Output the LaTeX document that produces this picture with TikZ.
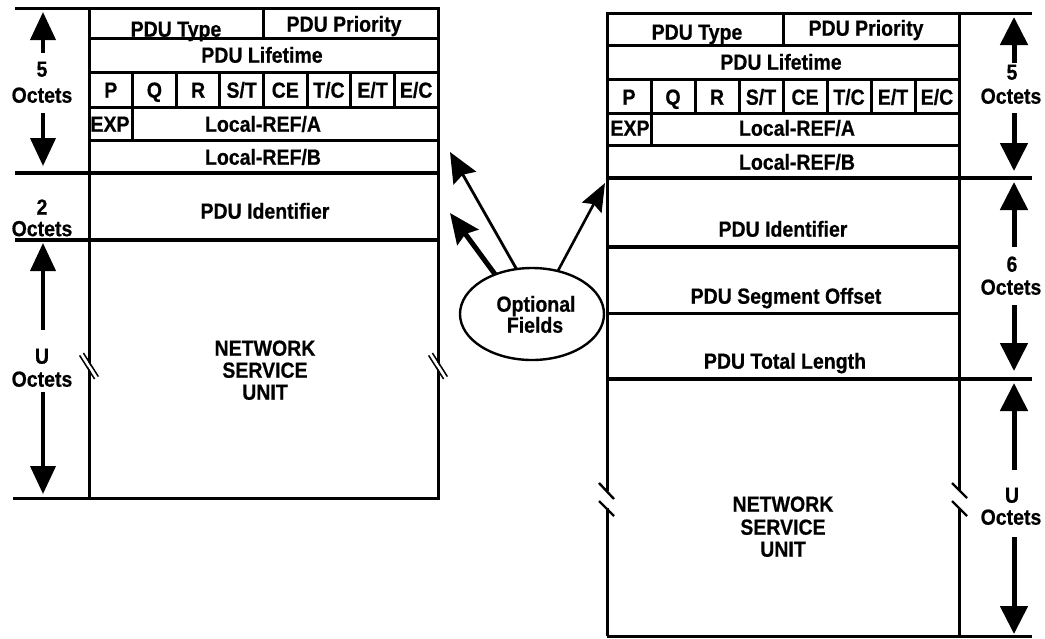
\documentclass[tikz,border=0pt]{standalone}
\usepackage{fontspec}
\setmainfont{Liberation Sans}
\newfontfamily\lblfont{Liberation Sans}[BoldFeatures={FakeBold=0.6}]
\usetikzlibrary{arrows.meta,shapes.geometric}

% field box from (x1,y1) to (x2,y2), y measured downwards
\newcommand\fieldbox[5]{%
  \node[fld, minimum width={(#4)-(#2)}, minimum height={(#5)-(#3)}] (#1) at (#2,#3) {};}
% label text, set a little taller than wide
\newcommand\tall[1]{\scalebox{1}[1.12]{#1}}

\begin{document}
\begin{tikzpicture}[x=1pt, y=-1pt,
  every node/.style={inner sep=0pt, outer sep=0pt},
  fld/.style={draw, rectangle, line width=3pt, anchor=north west},
  lbl/.style={font=\fontsize{19.5}{22}\lblfont\bfseries, text height=15.4pt, text depth=0pt},
  rule/.style={line width=3pt},
  thickrule/.style={line width=4.2pt},
  sarrowl/.style={line width=4pt, -{Triangle[length=28pt,width=25pt]}},
  sarrowr/.style={line width=5pt, -{Triangle[length=28pt,width=27pt]}},
  brk/.style={line width=2.4pt},
  brkthin/.style={line width=1.5pt},
]
\useasboundingbox (0,0) rectangle (1045,638);

% ---------------- left PDU ----------------
\fieldbox{ltype}{89}{8}{263}{38}
\fieldbox{lprio}{263}{8}{438}{38}
\fieldbox{llife}{89}{38}{438}{72}
\foreach \t [count=\i from 0] in {P,Q,R,{S/T},CE,{T/C},{E/T},{E/C}} {
  \pgfmathsetmacro\xa{89+\i*43.625}
  \node[fld, minimum width=43.625, minimum height=35] (lf\i) at (\xa,72) {};
  \node[lbl] (lft\i) at ([yshift=-0.5pt]lf\i.center) {\tall{\t}};
}
\fieldbox{lexp}{89}{107}{132}{140}
\fieldbox{lrefa}{132}{107}{438}{140}
\fieldbox{lrefb}{89}{140}{438}{173}
\fieldbox{lid}{89}{173}{438}{240}
\fieldbox{lnsu}{89}{240}{438}{498}

\draw[rule] (15,8) -- (ltype.north west);
\draw[thickrule] (15,173) -- (lid.north east);
\draw[thickrule] (15,240) -- (lnsu.north east);
\draw[rule] (13,498) -- (lnsu.south east);

\node[lbl] (tltype) at (176,29) {\tall{PDU Type}};
\node[lbl] (tlprio) at (344,24) {\tall{PDU Priority}};
\node[lbl] (tllife) at (262,55) {\tall{PDU Lifetime}};
\node[lbl] (tlexp) at (110,124) {\tall{EXP}};
\node[lbl] (tlrefa) at (263,124) {\tall{Local-REF/A}};
\node[lbl] (tlrefb) at (263,157) {\tall{Local-REF/B}};
\node[lbl] (tlid) at (265,211) {\tall{PDU Identifier}};
\node[lbl] (tlnsu1) at (265,348) {\tall{NETWORK}};
\node[lbl] (tlnsu2) at (265,370) {\tall{SERVICE}};
\node[lbl] (tlnsu3) at (265,392) {\tall{UNIT}};

% break marks on the left network service unit
\foreach \cx in {89, 438} {
  \draw[white, line width=2.6pt] (\cx-7.5,354.2) -- (\cx+7.5,377.8);
  \draw[brkthin] (\cx-9.4,355.4) -- (\cx+5.6,379.0);
  \draw[brkthin] (\cx-5.6,353.0) -- (\cx+9.4,376.6);
}

% left octet scale
\node[lbl] (l5n) at (42,69) {\tall{5}};
\node[lbl] (l5o) at (42,95) {\tall{Octets}};
\node[lbl] (l2n) at (42,207) {\tall{2}};
\node[lbl] (l2o) at (42,228.5) {\tall{Octets}};
\node[lbl] (lun) at (42,356) {\tall{U}};
\node[lbl] (luo) at (42,379) {\tall{Octets}};
\coordinate (l5a) at (43,53);  \coordinate (l5up) at (43,12);
\coordinate (l5b) at (43,113); \coordinate (l5dn) at (43,166);
\coordinate (lua) at (43,330); \coordinate (luup) at (43,243);
\coordinate (lub) at (43,392); \coordinate (ludn) at (43,494);
\draw[sarrowl] (l5a) -- (l5up);
\draw[sarrowl] (l5b) -- (l5dn);
\draw[sarrowl] (lua) -- (luup);
\draw[sarrowl] (lub) -- (ludn);

% ---------------- right PDU ----------------
\fieldbox{rtype}{607}{13}{783}{45}
\fieldbox{rprio}{783}{13}{959}{45}
\fieldbox{rlife}{607}{45}{959}{79}
\foreach \t [count=\i from 0] in {P,Q,R,{S/T},CE,{T/C},{E/T},{E/C}} {
  \pgfmathsetmacro\xa{607+\i*44}
  \node[fld, minimum width=44, minimum height=34] (rf\i) at (\xa,79) {};
  \node[lbl] (rft\i) at ([yshift=-1pt]rf\i.center) {\tall{\t}};
}
\fieldbox{rexp}{607}{113}{651}{145}
\fieldbox{rrefa}{651}{113}{959}{145}
\fieldbox{rrefb}{607}{145}{959}{178}
\fieldbox{rid}{607}{178}{959}{247}
\fieldbox{rseg}{607}{247}{959}{313}
\fieldbox{rlen}{607}{313}{959}{379}
\node[anchor=north west, minimum width=352, minimum height=257] (rnsu) at (607,379) {};

\draw[rule] (rprio.north east) -- (1032,13);
\draw[thickrule] (rid.north west) -- (1032,178);
\draw[thickrule] (rseg.north west) -- (rseg.north east);
\draw[thickrule] (rnsu.north west) -- (1032,379);
\draw[rule] (rnsu.south west) -- (1032,636);
\draw[rule] (rnsu.north west) -- (607,491);
\draw[rule] (607,508) -- (rnsu.south west);
\draw[rule] (rnsu.north east) -- (959,491);
\draw[rule] (959,508) -- (rnsu.south east);
\draw[brk] (599,483) -- (614,499);
\draw[brk] (599,501) -- (614,516);
\draw[brk] (952,483) -- (967,498);
\draw[brk] (952,501) -- (967,516);

\node[lbl] (trtype) at (697,32) {\tall{PDU Type}};
\node[lbl] (trprio) at (866,28) {\tall{PDU Priority}};
\node[lbl] (trlife) at (781,62) {\tall{PDU Lifetime}};
\node[lbl] (trexp) at (630,128) {\tall{EXP}};
\node[lbl] (trrefa) at (797,128) {\tall{Local-REF/A}};
\node[lbl] (trrefb) at (797,162) {\tall{Local-REF/B}};
\node[lbl] (trid) at (783,229) {\tall{PDU Identifier}};
\node[lbl] (trseg) at (786,296) {\tall{PDU Segment Offset}};
\node[lbl] (trlen) at (785,361) {\tall{PDU Total Length}};
\node[lbl] (trnsu1) at (783,504) {\tall{NETWORK}};
\node[lbl] (trnsu2) at (783,527) {\tall{SERVICE}};
\node[lbl] (trnsu3) at (783,549) {\tall{UNIT}};

% right octet scale
\node[lbl] (r5n) at (1012,72) {\tall{5}};
\node[lbl] (r5o) at (1011,96) {\tall{Octets}};
\node[lbl] (r6n) at (1012,264) {\tall{6}};
\node[lbl] (r6o) at (1011,287) {\tall{Octets}};
\node[lbl] (run) at (1012,495) {\tall{U}};
\node[lbl] (ruo) at (1011,517) {\tall{Octets}};
\coordinate (r5a) at (1014,63);  \coordinate (r5up) at (1014,17);
\coordinate (r5b) at (1014,113); \coordinate (r5dn) at (1014,171);
\coordinate (r6a) at (1014,247); \coordinate (r6up) at (1014,182);
\coordinate (r6b) at (1014,305); \coordinate (r6dn) at (1014,371);
\coordinate (rua) at (1014,470); \coordinate (ruup) at (1014,383);
\coordinate (rub) at (1014,537); \coordinate (rudn) at (1014,634);
\draw[sarrowr] (r5a) -- (r5up);
\draw[sarrowr] (r5b) -- (r5dn);
\draw[sarrowr] (r6a) -- (r6up);
\draw[sarrowr] (r6b) -- (r6dn);
\draw[sarrowr] (rua) -- (ruup);
\draw[sarrowr] (rub) -- (rudn);

% ---------------- optional fields ----------------
\node[draw, ellipse, line width=2.4pt, minimum width=144, minimum height=92] (opt) at (532,314) {};
\node[lbl] (topt1) at (536,304) {\tall{Optional}};
\node[lbl] (topt2) at (535,325) {\tall{Fields}};
\coordinate (tipA) at (450,152);
\coordinate (tipB) at (450,213);
\coordinate (tipC) at (605,183);
\draw[line width=2.8pt, -{Stealth[length=30pt,width=26pt,inset=4pt]}] (opt.109) -- (tipA);
\draw[line width=5pt, -{Stealth[length=30pt,width=26pt,inset=4pt]}] (opt.133) -- (tipB);
\draw[line width=2.6pt, -{Stealth[length=28pt,width=22pt,inset=4pt]}] (opt.59) -- (tipC);
\end{tikzpicture}
\end{document}
